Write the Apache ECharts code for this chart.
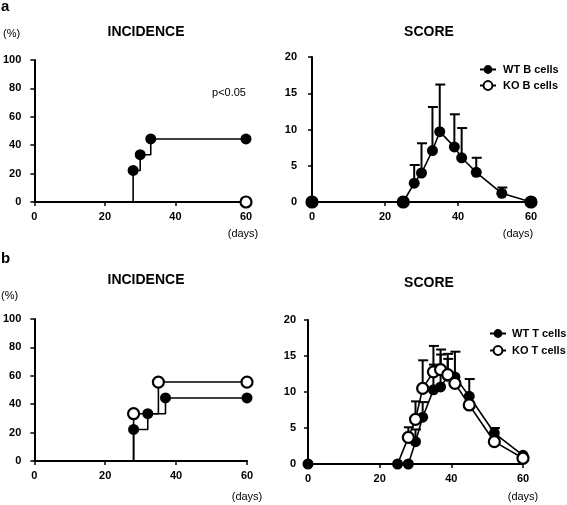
<!DOCTYPE html>
<html>
<head>
<meta charset="utf-8">
<script src="https://cdn.jsdelivr.net/npm/echarts@6/dist/echarts.min.js"></script>
<style>
html,body{margin:0;padding:0;background:#fff;}
#chart{width:567px;height:505px;}
</style>
</head>
<body>
<div id="chart"></div>
<script>
// ---------- DATA ----------
// Panel a, incidence (%)
const incA_wt_days = [28, 30, 33, 60];
const incA_wt_vals = [22.2, 33.3, 44.4, 44.4];
const incA_ko_days = [60];
const incA_ko_vals = [0];
// Panel a, score
const scoA_wt_days  = [0, 25, 28, 30, 33, 35, 39, 41, 45, 52, 60];
const scoA_wt_vals  = [0, 0, 2.6, 4.0, 7.1, 9.7, 7.6, 6.1, 4.1, 1.2, 0];
const scoA_wt_upper = [null, null, 5.1, 8.1, 13.1, 16.2, 12.1, 10.2, 6.1, 2.0, null];
const scoA_ko_days  = [0, 25, 60];
const scoA_ko_vals  = [0, 0, 0];
// Panel b, incidence (%)
const incB_wt_days = [28, 32, 37, 60];
const incB_wt_vals = [22.2, 33.3, 44.4, 44.4];
const incB_ko_days = [28, 35, 60];
const incB_ko_vals = [33.3, 55.6, 55.6];
// Panel b, score
const scoB_wt_days  = [0, 25, 28, 30, 32, 35, 37, 39, 41, 45, 52, 60];
const scoB_wt_vals  = [0, 0, 0, 3.1, 6.5, 10.3, 10.7, 12.2, 12.1, 9.4, 4.3, 1.2];
const scoB_wt_upper = [null, null, null, 4.8, 8.6, 13.8, 15.2, 15.3, 15.6, 11.8, 5.0, null];
const scoB_ko_days  = [25, 28, 30, 32, 35, 37, 39, 41, 45, 52, 60];
const scoB_ko_vals  = [0, 3.7, 6.2, 10.5, 12.8, 13.1, 12.4, 11.2, 8.2, 3.1, 0.8];
const scoB_ko_upper = [null, 5.1, 8.7, 14.4, 16.4, 15.9, 14.6, null, null, null, null];
// Axis ranges / tick labels
const xTicks = [0, 20, 40, 60];
const incTicks = [0, 20, 40, 60, 80, 100];
const scoTicks = [0, 5, 10, 15, 20];
const legendA = ['WT B cells', 'KO B cells'];
const legendB = ['WT T cells', 'KO T cells'];

// ---------- HELPERS ----------
const FONT = '"Liberation Sans", Arial, sans-serif';
const pairs = (d, v) => d.map((x, i) => [x, v[i]]);
const errData = (d, v, u) => d.map((x, i) => [x, v[i], u[i]]).filter(r => r[2] != null);

function stepData(days, vals) {
  const out = [{ value: [days[0], 0], symbol: 'none' }];
  days.forEach((d, i) => out.push([d, vals[i]]));
  return out;
}
function koBaseline(days, vals) {
  const out = [{ value: [0, 0], symbol: 'none' }];
  days.forEach((d, i) => out.push([d, vals[i]]));
  return out;
}
// first point sits under the WT marker at the same place
function hideFirst(data) {
  return data.map((p, i) => i === 0 ? { value: p, symbol: 'none' } : p);
}

function errRender(params, api) {
  const p = api.coord([api.value(0), api.value(1)]);
  const q = api.coord([api.value(0), api.value(2)]);
  return {
    type: 'group',
    children: [
      { type: 'line', shape: { x1: p[0], y1: p[1], x2: q[0], y2: q[1] }, style: { stroke: '#000', lineWidth: 2 } },
      { type: 'line', shape: { x1: q[0] - 4.5, y1: q[1], x2: q[0] + 5.5, y2: q[1] }, style: { stroke: '#000', lineWidth: 2 } }
    ]
  };
}

const filled = { color: '#000', borderColor: '#000', borderWidth: 0 };
const open = { color: '#fff', borderColor: '#000', borderWidth: 2.2 };

function xAx(gi, lm) {
  return {
    type: 'value', gridIndex: gi, min: xTicks[0], max: xTicks[xTicks.length - 1],
    interval: xTicks[1] - xTicks[0],
    axisLine: { show: true, onZero: false, lineStyle: { color: '#000', width: 2 } },
    axisTick: { show: true, length: 4, lineStyle: { color: '#000', width: 1.5 } },
    axisLabel: { color: '#000', fontSize: 11, fontWeight: 'bold', fontFamily: FONT, margin: lm },
    splitLine: { show: false }
  };
}
function yAx(gi, ticks, lm) {
  return {
    type: 'value', gridIndex: gi, min: ticks[0], max: ticks[ticks.length - 1],
    interval: ticks[1] - ticks[0],
    axisLine: { show: true, onZero: false, lineStyle: { color: '#000', width: 2 } },
    axisTick: { show: true, length: 4, lineStyle: { color: '#000', width: 1.5 } },
    axisLabel: { color: '#000', fontSize: 11, fontWeight: 'bold', fontFamily: FONT, margin: lm },
    splitLine: { show: false }
  };
}

function lineSeries(name, gi, data, style, opts) {
  return Object.assign({
    name: name, type: 'line', xAxisIndex: gi, yAxisIndex: gi, data: data,
    symbol: 'circle', symbolSize: 11, showAllSymbol: true,
    itemStyle: style, lineStyle: { color: '#000', width: 1.6 },
    emphasis: { disabled: true }, animation: false, silent: true
  }, opts || {});
}
function errSeries(gi, data) {
  return {
    type: 'custom', xAxisIndex: gi, yAxisIndex: gi, data: data,
    renderItem: errRender, encode: { x: 0, y: [1, 2] }, z: 1, silent: true, animation: false
  };
}

const txt = (t, x, y, size, weight, align) => ({
  type: 'text', x: x, y: y,
  style: { text: t, fill: '#000', font: (weight || 'normal') + ' ' + size + 'px ' + FONT, textAlign: align || 'center', textVerticalAlign: 'middle' }
});

const chart = echarts.init(document.getElementById('chart'), null, { renderer: 'canvas' });
chart.setOption({
  backgroundColor: '#fff',
  animation: false,
  grid: [
    { left: 33, top: 60, width: 213, height: 142 },
    { left: 312, top: 57, width: 219, height: 145 },
    { left: 31, top: 319, width: 216, height: 142 },
    { left: 308, top: 320, width: 215, height: 144 }
  ],
  xAxis: [xAx(0, 9), xAx(1, 9), xAx(2, 9), xAx(3, 9)],
  yAxis: [yAx(0, incTicks, 13), yAx(1, scoTicks, 15), yAx(2, incTicks, 13), yAx(3, scoTicks, 12)],
  legend: [
    {
      data: legendA, left: 474, top: 59, orient: 'vertical', itemGap: 5,
      itemWidth: 16, itemHeight: 11, selectedMode: false,
      textStyle: { color: '#000', fontSize: 11, fontWeight: 'bold', fontFamily: FONT, padding: [0, 0, 0, 2] }
    },
    {
      data: legendB, left: 484, top: 323, orient: 'vertical', itemGap: 6,
      itemWidth: 16, itemHeight: 11, selectedMode: false,
      textStyle: { color: '#000', fontSize: 11, fontWeight: 'bold', fontFamily: FONT, padding: [0, 0, 0, 1] }
    }
  ],
  graphic: [
    txt('a', 1, 7, 15, 'bold', 'left'),
    txt('b', 1, 259, 15, 'bold', 'left'),
    txt('INCIDENCE', 146, 32, 14, 'bold'),
    txt('SCORE', 429, 32, 14, 'bold'),
    txt('INCIDENCE', 146, 280, 14, 'bold'),
    txt('SCORE', 429, 283, 14, 'bold'),
    txt('(%)', 3, 34, 11, 'normal', 'left'),
    txt('(%)', 1, 296, 11, 'normal', 'left'),
    txt('p<0.05', 229, 93, 11, 'normal'),
    txt('(days)', 243, 234, 11, 'normal'),
    txt('(days)', 518, 234, 11, 'normal'),
    txt('(days)', 247, 497, 11, 'normal'),
    txt('(days)', 523, 497, 11, 'normal')
  ],
  series: [
    // Panel a incidence
    lineSeries('incA_ko', 0, koBaseline(incA_ko_days, incA_ko_vals), open, { z: 4 }),
    lineSeries('incA_wt', 0, stepData(incA_wt_days, incA_wt_vals), filled, { step: 'end', z: 3 }),
    // Panel a score
    errSeries(1, errData(scoA_wt_days, scoA_wt_vals, scoA_wt_upper)),
    lineSeries(legendA[1], 1, pairs(scoA_ko_days, scoA_ko_vals), open, { z: 2 }),
    lineSeries(legendA[0], 1, pairs(scoA_wt_days, scoA_wt_vals), filled, { z: 3 }),
    // Panel b incidence
    lineSeries('incB_wt', 2, stepData(incB_wt_days, incB_wt_vals), filled, { step: 'end', z: 3 }),
    lineSeries('incB_ko', 2, stepData(incB_ko_days, incB_ko_vals), open, { step: 'end', z: 4 }),
    // Panel b score
    errSeries(3, errData(scoB_wt_days, scoB_wt_vals, scoB_wt_upper)),
    errSeries(3, errData(scoB_ko_days, scoB_ko_vals, scoB_ko_upper)),
    lineSeries(legendB[0], 3, pairs(scoB_wt_days, scoB_wt_vals), filled, { z: 3 }),
    lineSeries(legendB[1], 3, hideFirst(pairs(scoB_ko_days, scoB_ko_vals)), open, { z: 4 })
  ]
});
</script>
</body>
</html>
